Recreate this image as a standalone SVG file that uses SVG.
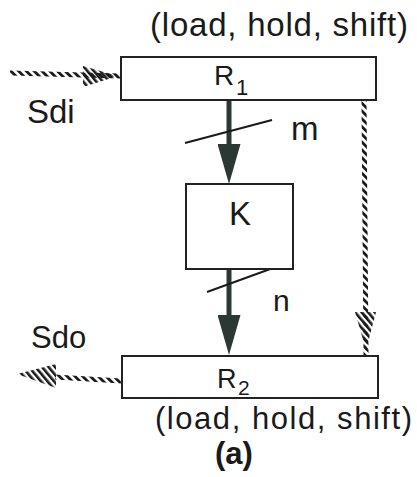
<svg xmlns="http://www.w3.org/2000/svg" width="417" height="477" viewBox="0 0 417 477">
<style>
.box{fill:#fff;stroke:#222;stroke-width:2}
.t{font-family:"Liberation Sans",Arial,sans-serif;fill:#1a1a1a}
.shaft{stroke:#2c3834;stroke-width:5;fill:none}
.slash{stroke:#1a1a1a;stroke-width:2;fill:none}
.hl{stroke:url(#hatch);stroke-width:5;fill:none}
.hc{fill:url(#hatch2);stroke:none}
</style>
<defs>
<pattern id="hatch" patternUnits="userSpaceOnUse" width="5.5" height="5.5" patternTransform="rotate(-45)">
<rect x="0" y="0" width="2.8" height="5.5" fill="#1a1a1a"/>
</pattern>
<pattern id="hatch2" patternUnits="userSpaceOnUse" width="5" height="5" patternTransform="rotate(-40)">
<rect x="0" y="0" width="2.6" height="5" fill="#1a1a1a"/>
</pattern>
<marker id="ah" viewBox="0 0 40 23" refX="30" refY="11.5" markerWidth="40" markerHeight="23" markerUnits="userSpaceOnUse" orient="auto">
<path d="M0,0 L40,11.5 L0,23 Z" fill="#2c3834"/>
</marker>
</defs>

<g id="connectors">
<path class="shaft" d="M229,100 V174" marker-end="url(#ah)"/>
<path class="shaft" d="M229,269 V345" marker-end="url(#ah)"/>
<path class="slash" d="M185,143 L272,120"/>
<path class="slash" d="M207,292 L273,268"/>
<path class="hl" d="M10,73 L120,76"/>
<polygon class="hc" points="83,66 118,76 83,87"/>
<path class="hl" d="M55,377 L121,381"/>
<polygon class="hc" points="17,374 56,364 56,388"/>
<path class="hl" d="M364,100 L366,355"/>
<polygon class="hc" points="355,312 376,312 366,350"/>
</g>

<g id="R1">
<rect class="box" x="121" y="57" width="255" height="43"/>
<text class="t" x="214" y="85" font-size="28">R</text>
<text class="t" x="236" y="95" font-size="22">1</text>
</g>
<text class="t" x="150" y="36" font-size="33" textLength="258" lengthAdjust="spacing">(load, hold, shift)</text>

<g id="K">
<rect class="box" x="186" y="184" width="107" height="85"/>
<text class="t" x="229" y="225" font-size="33">K</text>
</g>

<g id="R2">
<rect class="box" x="122" y="356" width="256" height="42"/>
<text class="t" x="217" y="388" font-size="27">R</text>
<text class="t" x="238" y="395" font-size="21">2</text>
</g>
<text class="t" x="155" y="429" font-size="31" textLength="257" lengthAdjust="spacing">(load, hold, shift)</text>

<text class="t" x="291" y="140" font-size="33">m</text>
<text class="t" x="273" y="311" font-size="30">n</text>
<text class="t" x="27" y="123" font-size="33">Sdi</text>
<text class="t" x="31" y="348" font-size="31">Sdo</text>
<text class="t" x="234" y="464" font-size="31" font-weight="bold" text-anchor="middle">(a)</text>
</svg>
